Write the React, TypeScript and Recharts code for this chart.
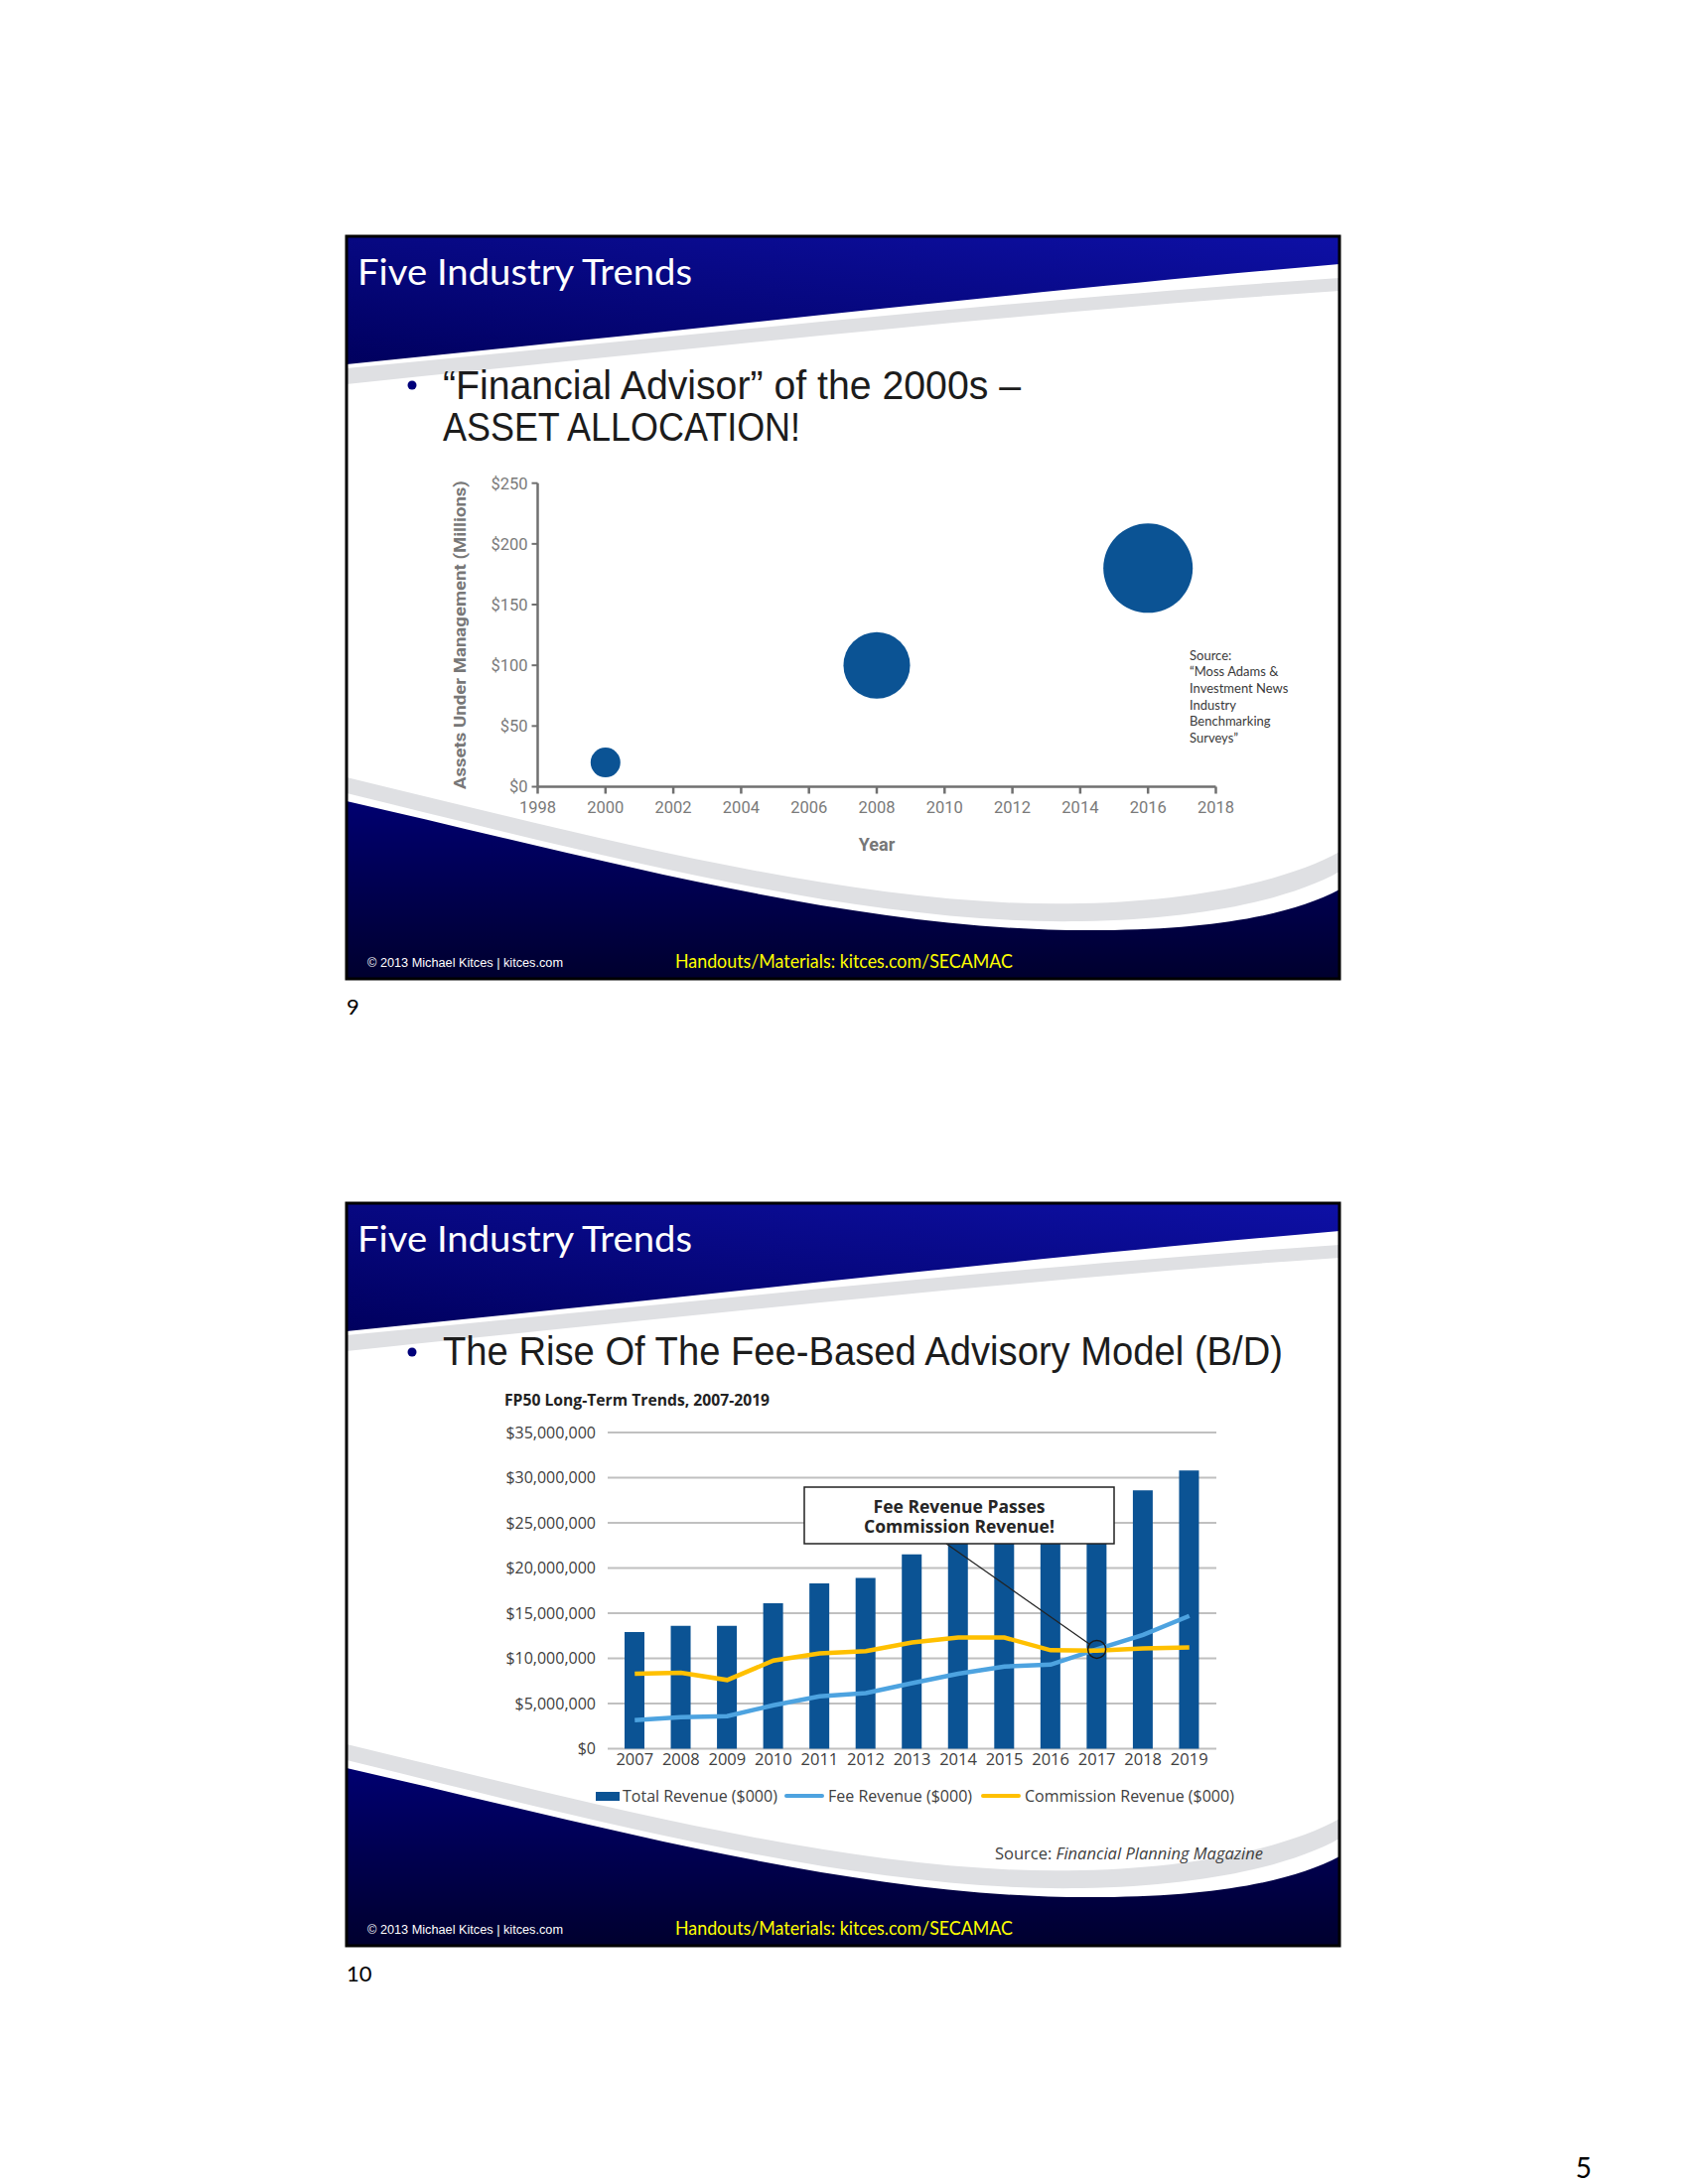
import React from 'react';
import {
  ScatterChart,
  Scatter,
  XAxis,
  YAxis,
  ZAxis,
  ComposedChart,
  Bar,
  Line,
  CartesianGrid,
  Legend,
  ReferenceDot,
} from 'recharts';

// slide 9: AUM bubbles
const aumYears = [2000, 2008, 2016];
const aumMillions = [20, 100, 180];
const aumYearTicks = [1998, 2000, 2002, 2004, 2006, 2008, 2010, 2012, 2014, 2016, 2018];
const aumValueTicks = [0, 50, 100, 150, 200, 250];
const aumSourceLines = ['Source:', '“Moss Adams &', 'Investment News', 'Industry', 'Benchmarking', 'Surveys”'];

// slide 10: FP50 long-term trends
const fpYears = ['2007', '2008', '2009', '2010', '2011', '2012', '2013', '2014', '2015', '2016', '2017', '2018', '2019'];
const totalRevenue = [12900000, 13600000, 13600000, 16100000, 18300000, 18900000, 21500000, 24000000, 25300000, 26000000, 27000000, 28600000, 30800000];
const feeRevenue = [3150000, 3500000, 3600000, 4800000, 5800000, 6150000, 7250000, 8300000, 9100000, 9300000, 11000000, 12600000, 14700000];
const commissionRevenue = [8300000, 8400000, 7600000, 9750000, 10550000, 10800000, 11750000, 12300000, 12300000, 10900000, 10850000, 11100000, 11200000];
const revenueTicks = [0, 5000000, 10000000, 15000000, 20000000, 25000000, 30000000, 35000000];
const crossoverYear = '2017';
const crossoverValue = 11000000;

const bubbleData = aumYears.map((year, i) => ({ year, aum: aumMillions[i], size: aumMillions[i] }));
const fpData = fpYears.map((year, i) => ({
  year,
  total: totalRevenue[i],
  fee: feeRevenue[i],
  commission: commissionRevenue[i],
}));

const SLIDE_LEFT = 349;
const SLIDE_TOPS = [238, 1212];
const NAVY_BAR = '#0b5394';
const FEE_BLUE = '#4da3e0';
const COMM_YELLOW = '#ffc000';
const FP_FONT = "'Open Sans', sans-serif";

const money = (v: number) => '$' + v.toLocaleString('en-US');

function SlideShell({ top, bullets }: { top: number; bullets: { text: string; width: number; y: number }[] }) {
  return (
    <g transform={`translate(${SLIDE_LEFT},${top})`}>
      <rect width={1000} height={748} fill="#fff" />
      {/* top swoosh */}
      <path d="M0,0 H1000 V28 C700,54 350,94 0,129 Z" fill="url(#topBlue)" />
      <path d="M0,133 C350,99 700,62 1000,42 L1000,55 C700,75 350,113 0,149 Z" fill="#dfe0e3" />
      {/* bottom swoosh */}
      <path d="M0,545 C250,605 520,678 740,672 C860,669 950,648 1000,620 L1000,640 C950,668 860,688 740,690 C520,694 250,622 0,561 Z" fill="#dfe0e3" />
      <path d="M0,569 C250,626 520,702 760,699 C880,698 955,682 1000,658 V748 H0 Z" fill="url(#botBlue)" />
      <text x={11} y={49} fill="#fff" fontFamily="Lato, 'Open Sans', sans-serif" fontSize={36} textLength={337} lengthAdjust="spacingAndGlyphs">
        Five Industry Trends
      </text>
      <circle cx={66} cy={150} r={4.5} fill="#00007a" />
      {bullets.map((b) => (
        <text
          key={b.text}
          x={97}
          y={b.y}
          fill="#1c1c1c"
          fontFamily="'Liberation Sans Narrow', 'Liberation Sans', Arial, sans-serif"
          fontSize={40}
          textLength={b.width}
          lengthAdjust="spacingAndGlyphs"
        >
          {b.text}
        </text>
      ))}
      <text x={21} y={736} fill="#fff" fontFamily="'Liberation Sans', Arial, sans-serif" fontSize={12.5} textLength={197} lengthAdjust="spacingAndGlyphs">
        © 2013 Michael Kitces  |  kitces.com
      </text>
      <text x={331} y={737} fill="#ffff00" fontFamily="Lato, sans-serif" fontSize={19} textLength={340} lengthAdjust="spacingAndGlyphs">
        Handouts/Materials: kitces.com/SECAMAC
      </text>
      <rect x={0} y={0} width={1000} height={748} fill="none" stroke="#000" strokeWidth={3} />
    </g>
  );
}

const renderAumYLabel = ({ viewBox }: any) => {
  const cx = viewBox.x + 23;
  const cy = viewBox.y + viewBox.height / 2;
  return (
    <text
      x={cx}
      y={cy}
      transform={`rotate(-90, ${cx}, ${cy})`}
      textAnchor="middle"
      dominantBaseline="central"
      fill="#777"
      fontFamily="Roboto, sans-serif"
      fontWeight={700}
      fontSize={16}
      textLength={311}
      lengthAdjust="spacingAndGlyphs"
    >
      Assets Under Management (Millions)
    </text>
  );
};

const renderAumXLabel = ({ viewBox }: any) => (
  <text
    x={viewBox.x + viewBox.width / 2}
    y={viewBox.y + 57.5}
    textAnchor="middle"
    dominantBaseline="central"
    fill="#777"
    fontFamily="Roboto, sans-serif"
    fontWeight={700}
    fontSize={18}
  >
    Year
  </text>
);

const LEGEND_X: Record<string, number> = { total: 110, fee: 300, commission: 498 };

const renderFpLegend = ({ payload }: any) => (
  <div style={{ position: 'relative', width: 760, height: 24, fontFamily: FP_FONT, fontSize: 16, color: '#404040' }}>
    {(payload || []).map((entry: any) => (
      <div
        key={entry.dataKey}
        style={{ position: 'absolute', left: LEGEND_X[entry.dataKey], top: 0, height: 24, display: 'flex', alignItems: 'center', whiteSpace: 'nowrap' }}
      >
        {entry.type === 'rect' ? (
          <span style={{ display: 'inline-block', width: 24, height: 9, background: entry.color, marginRight: 3 }} />
        ) : (
          <span style={{ display: 'inline-block', width: 40, height: 4, borderRadius: 2, background: entry.color, marginRight: 4 }} />
        )}
        {entry.value}
      </div>
    ))}
  </div>
);

export default function App() {
  return (
    <div style={{ position: 'absolute', left: 0, top: 0, width: 1700, height: 2200, background: '#fff', fontFamily: 'Lato, sans-serif' }}>
      <svg width={1700} height={2200} style={{ position: 'absolute', left: 0, top: 0 }}>
        <defs>
          <linearGradient id="topBlue" x1="1" y1="0" x2="0" y2="1">
            <stop offset="0" stopColor="#0e10a6" />
            <stop offset="1" stopColor="#00005e" />
          </linearGradient>
          <linearGradient id="botBlue" x1="0" y1="0" x2="0" y2="1">
            <stop offset="0" stopColor="#000070" />
            <stop offset="1" stopColor="#00002e" />
          </linearGradient>
        </defs>
        <SlideShell
          top={SLIDE_TOPS[0]}
          bullets={[
            { text: '“Financial Advisor” of the 2000s –', width: 582, y: 164 },
            { text: 'ASSET ALLOCATION!', width: 360, y: 206 },
          ]}
        />
        <SlideShell top={SLIDE_TOPS[1]} bullets={[{ text: 'The Rise Of The Fee-Based Advisory Model (B/D)', width: 846, y: 163 }]} />

        {aumSourceLines.map((line, i) => (
          <text key={line} x={1198} y={664.5 + i * 16.7} fill="#3a3a3a" fontFamily="Lato, sans-serif" fontSize={13}>
            {line}
          </text>
        ))}

        <text x={508} y={1415.5} fill="#222" fontFamily={FP_FONT} fontWeight={700} fontSize={15.7}>
          FP50 Long-Term Trends, 2007-2019
        </text>
        <text x={1272} y={1873} textAnchor="end" fill="#404040" fontFamily={FP_FONT} fontSize={16.5}>
          Source: <tspan fontStyle="italic">Financial Planning Magazine</tspan>
        </text>

        <text x={349} y={1022} fill="#000" fontFamily="Lato, sans-serif" fontSize={22}>9</text>
        <text x={349} y={1996} fill="#000" fontFamily="Lato, sans-serif" fontSize={22}>10</text>
        <text x={1603} y={2194} textAnchor="end" fill="#000" fontFamily="Lato, sans-serif" fontSize={28}>5</text>
      </svg>

      <div style={{ position: 'absolute', left: 441, top: 470, width: 820, height: 400 }}>
        <ScatterChart width={820} height={400} margin={{ top: 16.7, right: 36.5, bottom: 17.5, left: 0 }}>
          <XAxis
            type="number"
            dataKey="year"
            domain={[1998, 2018]}
            ticks={aumYearTicks}
            interval={0}
            height={60}
            tickSize={7}
            tickMargin={8}
            axisLine={{ stroke: '#707070', strokeWidth: 2.5 }}
            tickLine={{ stroke: '#707070', strokeWidth: 2.5 }}
            tick={{ fill: '#7a7a7a', fontSize: 16.5, fontFamily: 'Roboto, sans-serif' }}
            label={{ content: renderAumXLabel }}
          />
          <YAxis
            type="number"
            dataKey="aum"
            domain={[0, 250]}
            ticks={aumValueTicks}
            interval={0}
            width={100.5}
            tickSize={6}
            tickMargin={4}
            tickFormatter={(v: number) => `$${v}`}
            axisLine={{ stroke: '#707070', strokeWidth: 2.5 }}
            tickLine={{ stroke: '#707070', strokeWidth: 2 }}
            tick={{ fill: '#7a7a7a', fontSize: 16.5, fontFamily: 'Roboto, sans-serif' }}
            label={{ content: renderAumYLabel }}
          />
          <ZAxis type="number" dataKey="size" domain={[0, 180]} range={[0, 6362]} />
          <Scatter data={bubbleData} fill={NAVY_BAR} isAnimationActive={false} />
        </ScatterChart>
      </div>

      <div style={{ position: 'absolute', left: 490, top: 1420, width: 760, height: 420 }}>
        <ComposedChart width={760} height={420} data={fpData} margin={{ top: 23, right: 25, bottom: 48.5, left: 0 }}>
          <CartesianGrid vertical={false} stroke="#c0c0c0" strokeWidth={2} />
          <XAxis
            dataKey="year"
            height={30}
            interval={0}
            axisLine={false}
            tickLine={false}
            tickSize={0}
            tickMargin={5}
            padding={{ left: 4, right: 4 }}
            tick={{ fill: '#404040', fontSize: 16.5, fontFamily: FP_FONT }}
          />
          <YAxis
            domain={[0, 35000000]}
            ticks={revenueTicks}
            interval={0}
            width={122}
            axisLine={false}
            tickLine={false}
            tickSize={0}
            tickMargin={12}
            tickFormatter={money}
            tick={{ fill: '#404040', fontSize: 16, fontFamily: FP_FONT }}
          />
          <Bar dataKey="total" name="Total Revenue ($000)" fill={NAVY_BAR} barSize={20} legendType="rect" isAnimationActive={false} />
          <Line dataKey="fee" name="Fee Revenue ($000)" type="linear" stroke={FEE_BLUE} strokeWidth={4.5} dot={false} activeDot={false} legendType="plainline" isAnimationActive={false} />
          <Line dataKey="commission" name="Commission Revenue ($000)" type="linear" stroke={COMM_YELLOW} strokeWidth={4.5} dot={false} activeDot={false} legendType="plainline" isAnimationActive={false} />
          <ReferenceDot x={crossoverYear} y={crossoverValue} r={9} fill="none" stroke="#1a1a1a" strokeWidth={1.5} />
          <Legend layout="horizontal" verticalAlign="middle" align="center" wrapperStyle={{ top: 377, left: 0 }} content={renderFpLegend} />
        </ComposedChart>
      </div>

      {/* callout over the FP50 chart */}
      <svg width={1700} height={2200} style={{ position: 'absolute', left: 0, top: 0, pointerEvents: 'none' }}>
        <line x1={953} y1={1555} x2={1097} y2={1656} stroke="#222" strokeWidth={1.2} />
        <rect x={810} y={1498} width={312} height={57} fill="#fff" stroke="#222" strokeWidth={1.5} />
        <text x={966} y={1517} textAnchor="middle" dominantBaseline="central" fill="#262626" fontFamily={FP_FONT} fontWeight={700} fontSize={17.5}>
          Fee Revenue Passes
        </text>
        <text x={966} y={1537} textAnchor="middle" dominantBaseline="central" fill="#262626" fontFamily={FP_FONT} fontWeight={700} fontSize={17.5}>
          Commission Revenue!
        </text>
      </svg>
    </div>
  );
}
